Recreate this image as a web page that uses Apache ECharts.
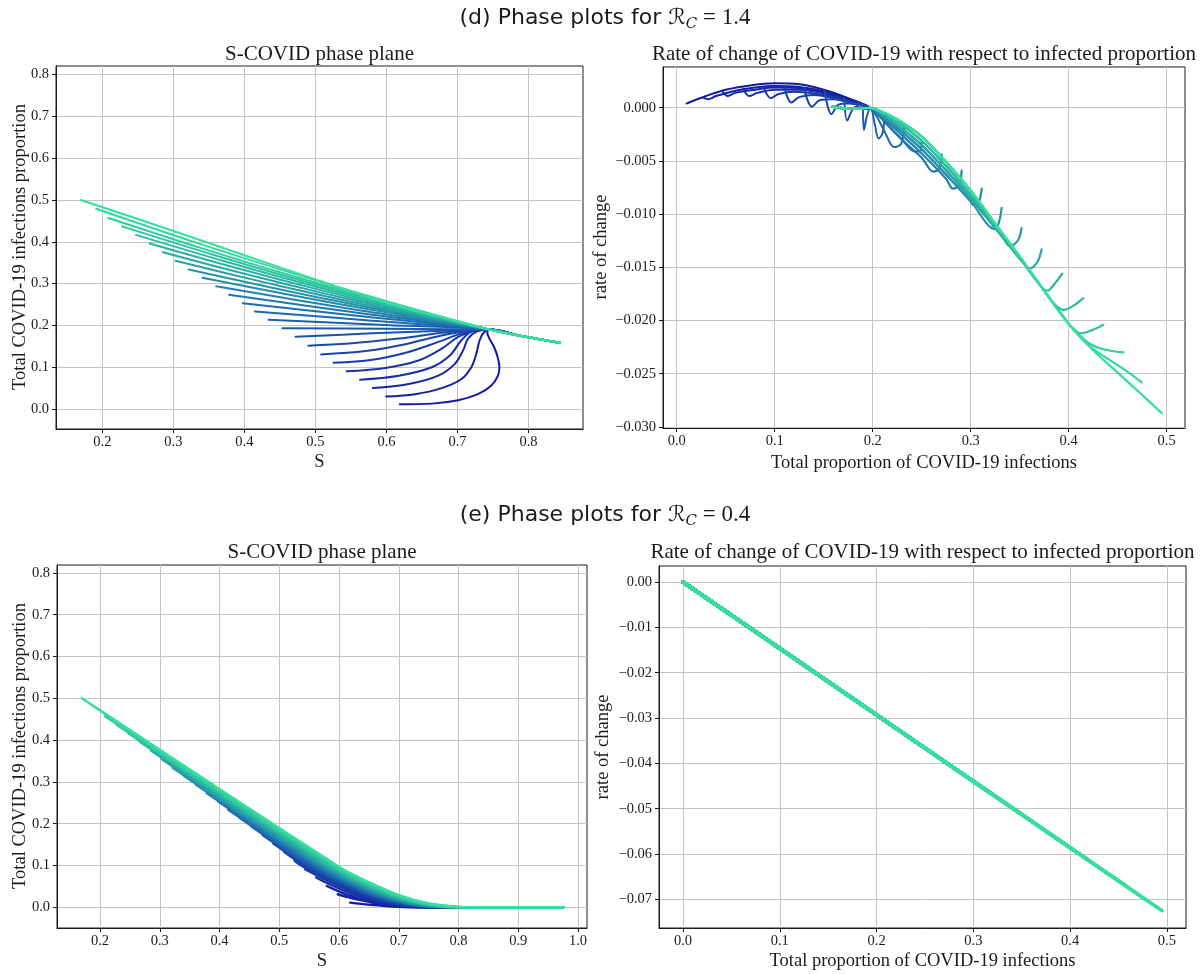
<!DOCTYPE html>
<html>
<head>
<meta charset="utf-8">
<script src="https://cdn.jsdelivr.net/npm/echarts@6/dist/echarts.min.js"></script>
<style>
  html, body { margin: 0; padding: 0; background: #ffffff; }
  #chart { width: 1202px; height: 974px; }
</style>
</head>
<body>
<div id="chart"></div>
<script>
// ---------------------------------------------------------------------------
// Data: trajectories indexed k = 0 … 24 by initial infected proportion
// (k = 0 smallest, k = 24 largest). Points are [x, y] in data units.
// ---------------------------------------------------------------------------

// Tick values
const sTicksD    = [0.2, 0.3, 0.4, 0.5, 0.6, 0.7, 0.8];
const sTicksE    = [0.2, 0.3, 0.4, 0.5, 0.6, 0.7, 0.8, 0.9, 1.0];
const infTicks   = [0, 0.1, 0.2, 0.3, 0.4, 0.5, 0.6, 0.7, 0.8];
const propTicks  = [0, 0.1, 0.2, 0.3, 0.4, 0.5];
const rateTicksD = [0, -0.005, -0.01, -0.015, -0.02, -0.025, -0.03];
const rateTicksE = [0, -0.01, -0.02, -0.03, -0.04, -0.05, -0.06, -0.07];

// (d) S – COVID phase plane, R_C = 1.4 : [S, total infected]
const phaseD = [
  [[0.6187,0.0113],[0.6637,0.0129],[0.701,0.021],[0.7288,0.0355],[0.7474,0.0556],[0.757,0.0798],[0.759,0.1],[0.7565,0.1242],[0.7515,0.1484],[0.745,0.1685],[0.742,0.182]],
  [[0.5995,0.0298],[0.6405,0.0355],[0.6777,0.05],[0.7056,0.0718],[0.7195,0.1],[0.7265,0.1323],[0.7312,0.1645],[0.737,0.183]],
  [[0.581,0.05],[0.6312,0.0597],[0.673,0.0798],[0.6963,0.108],[0.7079,0.1403],[0.7149,0.1685],[0.727,0.185]],
  [[0.5628,0.0702],[0.6172,0.0798],[0.6637,0.1],[0.6893,0.1282],[0.7056,0.1645],[0.72,0.1855]],
  [[0.544,0.0903],[0.5986,0.0984],[0.6451,0.1161],[0.6777,0.1444],[0.701,0.1726],[0.722,0.1865]],
  [[0.5256,0.1105],[0.58,0.1177],[0.6312,0.1363],[0.673,0.1605],[0.708,0.1815]],
  [[0.508,0.1306],[0.5707,0.1387],[0.6265,0.155],[0.673,0.1742],[0.712,0.186]],
  [[0.49,0.1515],[0.5474,0.1565],[0.6172,0.1685],[0.6777,0.1823],[0.715,0.188]],
  [[0.472,0.173],[0.58,0.181],[0.68,0.1875]],
  [[0.4535,0.1935],[0.5993,0.192]],
  [[0.4341,0.2135],[0.5896,0.2018]],
  [[0.4147,0.2335],[0.5799,0.2113]],
  [[0.3978,0.253],[0.5714,0.2205]],
  [[0.3784,0.2735],[0.5617,0.2298]],
  [[0.3603,0.2935],[0.5527,0.2388]],
  [[0.3409,0.314],[0.543,0.248]],
  [[0.3215,0.334],[0.5333,0.257]],
  [[0.303,0.3545],[0.4135,0.3089],[0.524,0.2663],[0.6345,0.2266]],
  [[0.2852,0.375],[0.4002,0.3235],[0.5151,0.2755],[0.6301,0.231]],
  [[0.2667,0.396],[0.3863,0.3385],[0.5059,0.285],[0.6254,0.2355]],
  [[0.2473,0.4165],[0.3717,0.3535],[0.4962,0.2948],[0.6206,0.2402]],
  [[0.2279,0.437],[0.3572,0.3686],[0.4865,0.3045],[0.6157,0.2451]],
  [[0.2084,0.457],[0.3426,0.3832],[0.4767,0.314],[0.6109,0.2497]],
  [[0.1914,0.479],[0.3298,0.3993],[0.4682,0.3245],[0.6066,0.2548]],
  [[0.1696,0.5],[0.3,0.426],[0.4,0.368],[0.5,0.31],[0.6,0.255],[0.7,0.21]]
];
// common approach to the endemic state shared by every trajectory
const phaseDTail = [[0.745,0.19],[0.79,0.1745],[0.844,0.1585]];

// (d) rate of change vs infected proportion, low starting values (k = 0 … 11)
const rateDArcs = [
  [[0.0101,0.0004],[0.03,0.0011],[0.05,0.0017],[0.075,0.0021],[0.1,0.0023],[0.125,0.0022],[0.15,0.0017],[0.175,0.0009],[0.197,0]],
  [[0.028,0.0009],[0.032,0.0008],[0.04,0.0011],[0.06,0.0016],[0.08,0.0019],[0.1,0.00205],[0.125,0.00195],[0.15,0.00155],[0.175,0.0008],[0.197,0]],
  [[0.047,0.0015],[0.052,0.0011],[0.06,0.0014],[0.08,0.0017],[0.1,0.0019],[0.125,0.00185],[0.15,0.00145],[0.175,0.00075],[0.197,0]],
  [[0.068,0.0018],[0.074,0.0011],[0.082,0.0014],[0.1,0.0017],[0.125,0.0017],[0.15,0.00135],[0.175,0.0007],[0.197,0]],
  [[0.089,0.0019],[0.096,0.0009],[0.104,0.0013],[0.12,0.0015],[0.14,0.00135],[0.16,0.001],[0.18,0.0005],[0.197,0]],
  [[0.11,0.0019],[0.117,0.0005],[0.125,0.001],[0.14,0.0012],[0.16,0.0009],[0.18,0.00045],[0.197,0]],
  [[0.13,0.0018],[0.138,0.0001],[0.146,0.0007],[0.16,0.0008],[0.18,0.0004],[0.197,0]],
  [[0.151,0.0015],[0.158,-0.0006],[0.165,0.0003],[0.175,0.0004],[0.197,0]],
  [[0.171,0.0009],[0.174,-0.0012],[0.18,-0.0001],[0.188,0.0002],[0.197,0]],
  [[0.19,0.0003],[0.191,-0.0021],[0.194,-0.0008],[0.197,0]],
  [[0.212,-0.0008],[0.21,-0.0024],[0.206,-0.0029],[0.202,-0.0015],[0.197,0]],
  [[0.232,-0.0018],[0.229,-0.0034],[0.222,-0.0037],[0.212,-0.0022],[0.204,-0.0008],[0.197,0]]
];
// (d) strands of the descending band, from the upper edge (G) to the lower edge (B6)
const rateDBandG  = [[0.475,-0.027],[0.45,-0.0249],[0.425,-0.0228],[0.4,-0.0203],[0.375,-0.0172],[0.35,-0.014],[0.325,-0.0109],[0.3,-0.0078],[0.275,-0.0051],[0.25,-0.0027],[0.225,-0.0011],[0.21,-0.0004],[0.197,0]];
const rateDBand2  = [[0.35,-0.0141],[0.325,-0.0111],[0.3,-0.0082],[0.275,-0.0055],[0.25,-0.0031],[0.225,-0.0013],[0.21,-0.0005],[0.197,0]];
const rateDBand3  = [[0.35,-0.0142],[0.325,-0.0113],[0.3,-0.0085],[0.275,-0.0059],[0.25,-0.0035],[0.225,-0.0016],[0.21,-0.0006],[0.197,0]];
const rateDBand4  = [[0.325,-0.0115],[0.3,-0.0088],[0.275,-0.0063],[0.25,-0.0039],[0.225,-0.0019],[0.21,-0.0008],[0.197,0]];
const rateDBand5  = [[0.3,-0.0091],[0.275,-0.0067],[0.25,-0.0043],[0.23,-0.0026],[0.215,-0.0013],[0.205,-0.0005],[0.197,0]];
const rateDBand6  = [[0.275,-0.0071],[0.25,-0.0047],[0.23,-0.003],[0.215,-0.0016],[0.205,-0.0006],[0.197,0]];
// (d) starting hooks for larger starting values (k = 12 … 24) and the strand each one joins
const rateDHooks = [
  { pts: [[0.25,-0.0033],[0.248,-0.0041],[0.243,-0.0041]], band: 6 },
  { pts: [[0.2704,-0.0044],[0.268,-0.0057],[0.262,-0.006]], band: 6 },
  { pts: [[0.2908,-0.0059],[0.288,-0.0073],[0.282,-0.0076]], band: 5 },
  { pts: [[0.3112,-0.0076],[0.308,-0.0089],[0.302,-0.0091]], band: 4 },
  { pts: [[0.3316,-0.0094],[0.329,-0.0107],[0.325,-0.0114]], band: 4 },
  { pts: [[0.352,-0.0113],[0.348,-0.0125],[0.34,-0.013],[0.333,-0.0122]], band: 3 },
  { pts: [[0.3724,-0.0133],[0.368,-0.0145],[0.36,-0.0151],[0.355,-0.0147]], band: 3 },
  { pts: [[0.3935,-0.0156],[0.386,-0.0165],[0.378,-0.0172],[0.37,-0.0166]], band: 2 },
  { pts: [[0.415,-0.0179],[0.405,-0.0186],[0.395,-0.019],[0.385,-0.0184],[0.375,-0.0172]], band: 2 },
  { pts: [[0.4354,-0.0204],[0.424,-0.0209],[0.412,-0.0212],[0.404,-0.0207]], band: 1 },
  { pts: [[0.4558,-0.023],[0.4354,-0.0227],[0.4218,-0.0222],[0.41,-0.0213]], band: 1 },
  { pts: [[0.4745,-0.0258],[0.455,-0.0245],[0.435,-0.0233],[0.42,-0.0223]], band: 1 },
  { pts: [[0.495,-0.0287]], band: 1 }
];
// drift past the crossing towards the endemic proportion
const rateDTail = [[0.185,-0.0001],[0.17,-0.00005],[0.159,0.0001]];

// (e) S – COVID phase plane, R_C = 0.4 : [S, total infected]
const phaseE = [
  [[0.6187,0.0113],[0.65,0.0065],[0.69,0.002],[0.74,0]],
  [[0.5978,0.0312],[0.63,0.019],[0.67,0.008],[0.72,0.001],[0.77,0]],
  [[0.5794,0.0512],[0.616,0.029],[0.666,0.009],[0.716,0.001],[0.766,0]],
  [[0.5615,0.0712],[0.577,0.06],[0.627,0.029],[0.677,0.009],[0.727,0.001],[0.777,0]],
  [[0.5431,0.0911],[0.586,0.06],[0.636,0.029],[0.686,0.009],[0.736,0.001],[0.786,0]],
  [[0.5256,0.1113],[0.54,0.097],[0.59,0.06],[0.64,0.029],[0.69,0.009],[0.74,0.001],[0.79,0]],
  [[0.508,0.1328],[0.545,0.097],[0.595,0.06],[0.645,0.029],[0.695,0.009],[0.745,0.001],[0.795,0]],
  [[0.49,0.1528],[0.549,0.097],[0.599,0.06],[0.649,0.029],[0.699,0.009],[0.749,0.001],[0.799,0]],
  [[0.472,0.173],[0.552,0.097],[0.602,0.06],[0.652,0.029],[0.702,0.009],[0.752,0.001],[0.802,0]],
  [[0.4535,0.1935],[0.556,0.097],[0.606,0.06],[0.656,0.029],[0.706,0.009],[0.756,0.001],[0.806,0]],
  [[0.4341,0.2135],[0.558,0.097],[0.608,0.06],[0.658,0.029],[0.708,0.009],[0.758,0.001],[0.808,0]],
  [[0.4147,0.2335],[0.56,0.097],[0.61,0.06],[0.66,0.029],[0.71,0.009],[0.76,0.001],[0.81,0]],
  [[0.3978,0.253],[0.564,0.097],[0.614,0.06],[0.664,0.029],[0.714,0.009],[0.764,0.001],[0.814,0]],
  [[0.3784,0.2735],[0.566,0.097],[0.616,0.06],[0.666,0.029],[0.716,0.009],[0.766,0.001],[0.816,0]],
  [[0.3603,0.2935],[0.569,0.097],[0.619,0.06],[0.669,0.029],[0.719,0.009],[0.769,0.001],[0.819,0]],
  [[0.3409,0.314],[0.572,0.097],[0.622,0.06],[0.672,0.029],[0.722,0.009],[0.772,0.001],[0.822,0]],
  [[0.3215,0.334],[0.574,0.097],[0.624,0.06],[0.674,0.029],[0.724,0.009],[0.774,0.001],[0.824,0]],
  [[0.303,0.3545],[0.578,0.097],[0.628,0.06],[0.678,0.029],[0.728,0.009],[0.778,0.001],[0.828,0]],
  [[0.2852,0.375],[0.582,0.097],[0.632,0.06],[0.682,0.029],[0.732,0.009],[0.782,0.001],[0.832,0]],
  [[0.2667,0.396],[0.585,0.097],[0.635,0.06],[0.685,0.029],[0.735,0.009],[0.785,0.001],[0.835,0]],
  [[0.2473,0.4165],[0.588,0.097],[0.638,0.06],[0.688,0.029],[0.738,0.009],[0.788,0.001],[0.838,0]],
  [[0.2279,0.437],[0.591,0.097],[0.641,0.06],[0.691,0.029],[0.741,0.009],[0.791,0.001],[0.841,0]],
  [[0.2084,0.457],[0.594,0.097],[0.644,0.06],[0.694,0.029],[0.744,0.009],[0.794,0.001],[0.844,0]],
  [[0.1914,0.479],[0.598,0.097],[0.648,0.06],[0.698,0.029],[0.748,0.009],[0.798,0.001],[0.848,0]],
  [[0.1696,0.5],[0.6,0.097],[0.65,0.06],[0.7,0.029],[0.75,0.009],[0.8,0.001],[0.85,0]]
];
const phaseEEnd = [0.975, 0];

// (e) rate of change: each trajectory runs straight from its start to the origin
const rateEStart = [
  [0.010,-0.0015],[0.030,-0.0044],[0.050,-0.0073],[0.071,-0.0104],[0.091,-0.0133],
  [0.112,-0.0164],[0.132,-0.0193],[0.153,-0.0224],[0.173,-0.0253],[0.194,-0.0284],
  [0.214,-0.0314],[0.235,-0.0344],[0.255,-0.0374],[0.275,-0.0403],[0.296,-0.0434],
  [0.316,-0.0463],[0.337,-0.0494],[0.357,-0.0523],[0.377,-0.0552],[0.398,-0.0583],
  [0.418,-0.0612],[0.438,-0.0642],[0.459,-0.0672],[0.479,-0.0702],[0.495,-0.0725]
];
const rateEOrigin = [0, 0];

// ---------------------------------------------------------------------------
// Styling helpers
// ---------------------------------------------------------------------------
const SERIF = '"Liberation Serif", "Times New Roman", serif';
const INK = '#1b1b1b';
const GRID_LINE = '#c4c4c4';

// blue → teal → spring green, like a "winter" colour map
const COLOR_STOPS = [[20, 24, 162], [30, 110, 176], [52, 224, 156]];
function trajColor(k, n) {
  const t = n > 1 ? k / (n - 1) : 0;
  const seg = t < 0.5 ? 0 : 1;
  const u = seg === 0 ? t / 0.5 : (t - 0.5) / 0.5;
  const a = COLOR_STOPS[seg], b = COLOR_STOPS[seg + 1];
  const c = a.map((v, i) => Math.round(v + (b[i] - v) * u));
  return 'rgb(' + c.join(',') + ')';
}

function fmt(decimals) {
  return function (v) {
    const s = Math.abs(v).toFixed(decimals);
    return (v < -1e-12 ? '\u2212' : '') + s;
  };
}

function makeAxis(gridIndex, min, max, ticks, decimals, isY) {
  return {
    type: 'value',
    gridIndex: gridIndex,
    min: min,
    max: max,
    scale: true,
    axisLine: { show: true, onZero: false, lineStyle: { color: INK, width: 1 } },
    axisTick: { show: true, customValues: ticks, length: 4, inside: false, lineStyle: { color: INK, width: 1 } },
    axisLabel: {
      customValues: ticks,
      formatter: fmt(decimals),
      fontFamily: SERIF,
      fontSize: 14.5,
      color: INK,
      margin: isY ? 7 : 6,
      showMinLabel: true,
      showMaxLabel: true
    },
    splitLine: { show: true, lineStyle: { color: GRID_LINE, width: 1 } }
  };
}

// ---------------------------------------------------------------------------
// Panels
// ---------------------------------------------------------------------------
const grids = [
  { left: 56,  top: 66,  width: 527, height: 363 },   // (d) phase plane
  { left: 663, top: 67,  width: 522, height: 361 },   // (d) rate of change
  { left: 57,  top: 565, width: 530, height: 363 },   // (e) phase plane
  { left: 659, top: 566, width: 527, height: 362 }    // (e) rate of change
].map(g => Object.assign({ show: true, borderColor: INK, borderWidth: 1, backgroundColor: 'transparent', containLabel: false }, g));

const xAxes = [
  makeAxis(0, 0.1348, 0.8767, sTicksD, 1, false),
  makeAxis(1, -0.014, 0.5187, propTicks, 1, false),
  makeAxis(2, 0.128, 1.015, sTicksE, 1, false),
  makeAxis(3, -0.0248, 0.5197, propTicks, 1, false)
];
const yAxes = [
  makeAxis(0, -0.0478, 0.8206, infTicks, 1, true),
  makeAxis(1, -0.0301, 0.00383, rateTicksD, 3, true),
  makeAxis(2, -0.0495, 0.8189, infTicks, 1, true),
  makeAxis(3, -0.0763, 0.00353, rateTicksE, 2, true)
];

const series = [];
function addLine(gi, data, color, width, smooth) {
  series.push({
    type: 'line',
    xAxisIndex: gi,
    yAxisIndex: gi,
    data: data,
    showSymbol: false,
    symbol: 'none',
    smooth: smooth,
    clip: true,
    silent: true,
    animation: false,
    lineStyle: { color: color, width: width, cap: 'round', join: 'round' },
    emphasis: { disabled: true }
  });
}

const N = 25;

// (d) phase plane
phaseD.forEach((pts, k) => addLine(0, pts.concat(phaseDTail), trajColor(k, N), 2, 0.35));

// (d) rate of change
const strands = { 1: rateDBandG, 2: rateDBand2, 3: rateDBand3, 4: rateDBand4, 5: rateDBand5, 6: rateDBand6 };
rateDArcs.forEach((pts, k) => addLine(1, pts.concat(rateDTail), trajColor(k, N), 2, 0.35));
rateDHooks.forEach((h, i) => {
  const k = rateDArcs.length + i;
  const last = h.pts[h.pts.length - 1][0];
  const rest = strands[h.band].filter(p => p[0] < last - 1e-9);
  addLine(1, h.pts.concat(rest, rateDTail), trajColor(k, N), 2.2, 0.35);
});

// (e) phase plane
phaseE.forEach((pts, k) => addLine(2, pts.concat([phaseEEnd]), trajColor(k, N), 2.4, 0.35));

// (e) rate of change
rateEStart.forEach((p, k) => addLine(3, [p, rateEOrigin], trajColor(k, N), 3.5, false));

// ---------------------------------------------------------------------------
// Text: figure headings, panel titles, axis names
// ---------------------------------------------------------------------------
function label(text, x, y, size, rotate, family) {
  return {
    type: 'text',
    x: x, y: y,
    rotation: rotate ? Math.PI / 2 : 0,
    silent: true,
    z: 10,
    style: {
      text: text,
      fontFamily: family || SERIF,
      fontSize: size,
      fill: INK,
      align: 'center', verticalAlign: 'middle',
      textAlign: 'center', textVerticalAlign: 'middle'
    }
  };
}
function heading(prefix, value, y) {
  return {
    type: 'text',
    x: 605, y: y,
    silent: true,
    z: 10,
    style: {
      text: '{a|' + prefix + ' Phase plots for }{r|\u211B}{c|C}{b| = ' + value + '}',
      align: 'center', verticalAlign: 'middle',
      textAlign: 'center', textVerticalAlign: 'middle',
      fill: INK,
      rich: {
        a: { fontFamily: '"DejaVu Sans", sans-serif', fontSize: 22, lineHeight: 28, fill: INK, verticalAlign: 'middle' },
        r: { fontFamily: '"DejaVu Serif", "DejaVu Sans", serif', fontStyle: 'italic', fontSize: 22, lineHeight: 28, fill: INK, verticalAlign: 'middle' },
        c: { fontFamily: '"DejaVu Serif", serif', fontStyle: 'italic', fontSize: 15, lineHeight: 16, fill: INK, verticalAlign: 'bottom' },
        b: { fontFamily: '"Liberation Serif", "DejaVu Serif", serif', fontSize: 23, lineHeight: 28, fill: INK, verticalAlign: 'middle' }
      }
    }
  };
}

const graphics = [
  heading('(d)', '1.4', 18),
  heading('(e)', '0.4', 515),

  label('S-COVID phase plane', 319.5, 54, 21),
  label('Rate of change of COVID-19 with respect to infected proportion', 924, 54, 21),
  label('S-COVID phase plane', 322, 552, 21),
  label('Rate of change of COVID-19 with respect to infected proportion', 922.5, 552, 21),

  label('S', 319.5, 462, 18.5),
  label('Total proportion of COVID-19 infections', 924, 463, 18.5),
  label('S', 322, 961, 18.5),
  label('Total proportion of COVID-19 infections', 922.5, 961, 18.5),

  label('Total COVID-19 infections proportion', 20, 247, 18.5, true),
  label('rate of change', 601, 247, 18.5, true),
  label('Total COVID-19 infections proportion', 20, 746, 18.5, true),
  label('rate of change', 603, 747, 18.5, true)
];

const chart = echarts.init(document.getElementById('chart'), null, { renderer: 'canvas', width: 1202, height: 974 });
chart.setOption({
  animation: false,
  backgroundColor: '#ffffff',
  grid: grids,
  xAxis: xAxes,
  yAxis: yAxes,
  series: series,
  graphic: { elements: graphics }
});
</script>
</body>
</html>
